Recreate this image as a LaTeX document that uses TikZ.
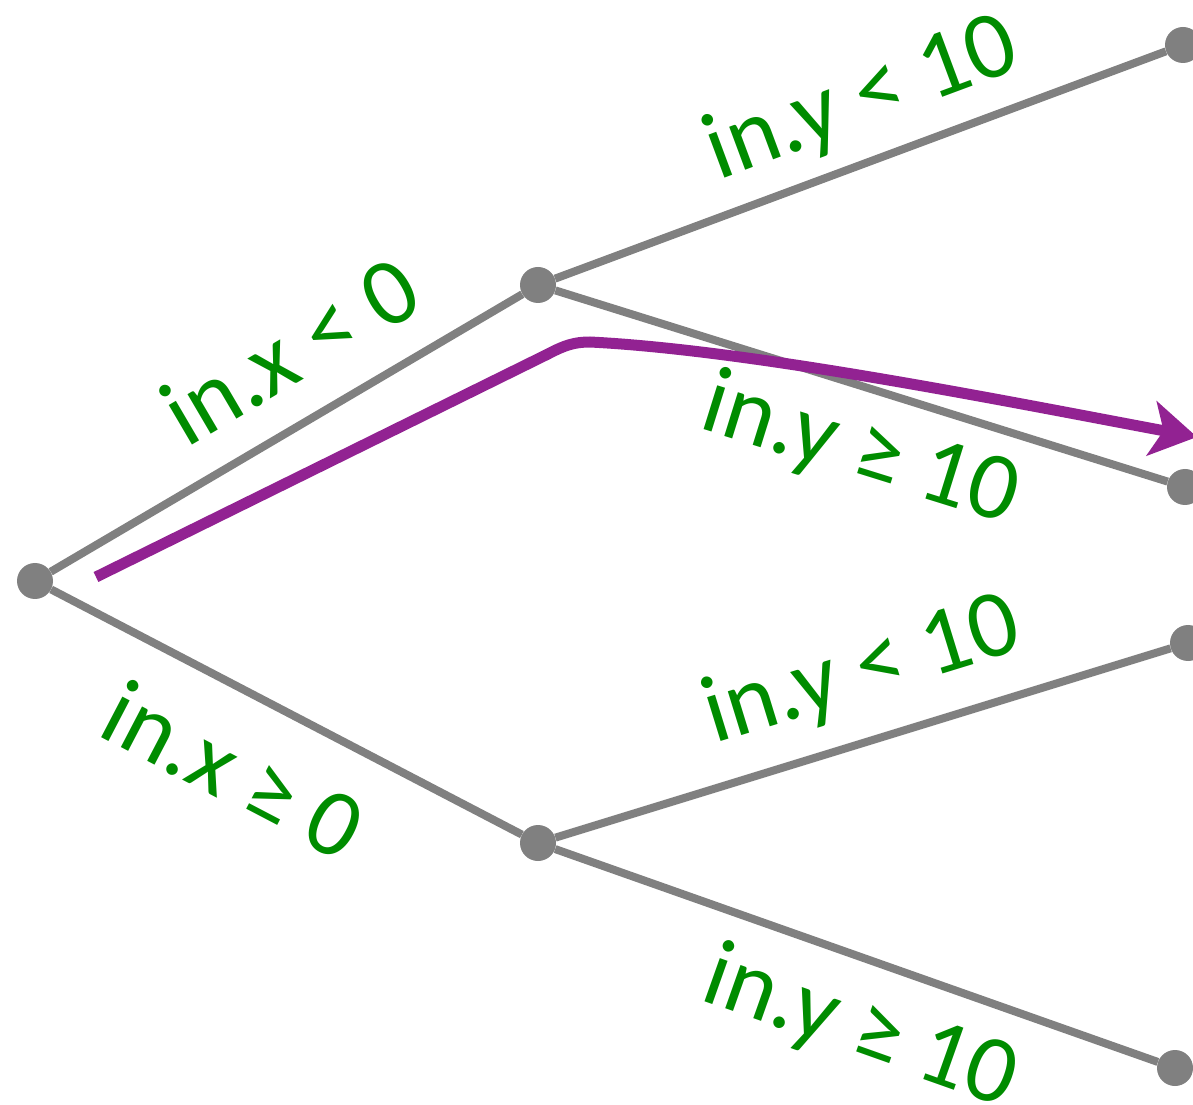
\documentclass[tikz,border=0pt]{standalone}
\usepackage{fontspec}
\setmainfont{Carlito}
\usetikzlibrary{arrows.meta}
\definecolor{edgegray}{RGB}{128,128,128}
\definecolor{lblgreen}{RGB}{0,140,0}
\definecolor{pathpurple}{RGB}{146,34,146}
\begin{document}
\begin{tikzpicture}[x=1pt,y=1pt,
  dot/.style={circle,fill=edgegray,inner sep=0pt,minimum size=36pt},
  edgeline/.style={draw=edgegray,line width=8pt},
  lbl/.style={text=lblgreen,font=\fontsize{96}{115}\selectfont,inner sep=0pt},
  trace/.style={draw=pathpurple,line width=11pt,-{Stealth[length=46pt,width=55pt,inset=12pt]}}]
\useasboundingbox (0,0) rectangle (1193,1104);
% nodes
\node[dot] (root) at (35,523) {};
\node[dot] (A) at (538,819) {};
\node[dot] (B) at (538,261) {};
\node[dot] (L1) at (1183,1059) {};
\node[dot] (L2) at (1185,617) {};
\node[dot] (L3) at (1188,461) {};
\node[dot] (L4) at (1175,36) {};
% edges
\draw[edgeline] (root) -- (A);
\draw[edgeline] (root) -- (B);
\draw[edgeline] (A) -- (L1);
\draw[edgeline] (A) -- (L2);
\draw[edgeline] (B) -- (L3);
\draw[edgeline] (B) -- (L4);
% labels
\node[lbl, rotate=30.4] (lx1) at (290,754) {in.x < 0};
\node[lbl, rotate=-27.6] (lx2) at (234,334) {in.x ≥ 0};
\node[lbl, rotate=20.4] (ly1) at (862,1004) {in.y < 10};
\node[lbl, rotate=-17.3] (ly2) at (860,652) {in.y ≥ 10};
\node[lbl, rotate=17.1] (ly3) at (862,432) {in.y < 10};
\node[lbl, rotate=-19.5] (ly4) at (860,74) {in.y ≥ 10};
% trace
\coordinate (ts) at (96,527);
\coordinate (te) at (1197,667);
\draw[trace] (ts) -- (548,750) .. controls (565,759) and (575,762) .. (590,762) .. controls (750,754) and (1000,704) .. (te);
\end{tikzpicture}
\end{document}
